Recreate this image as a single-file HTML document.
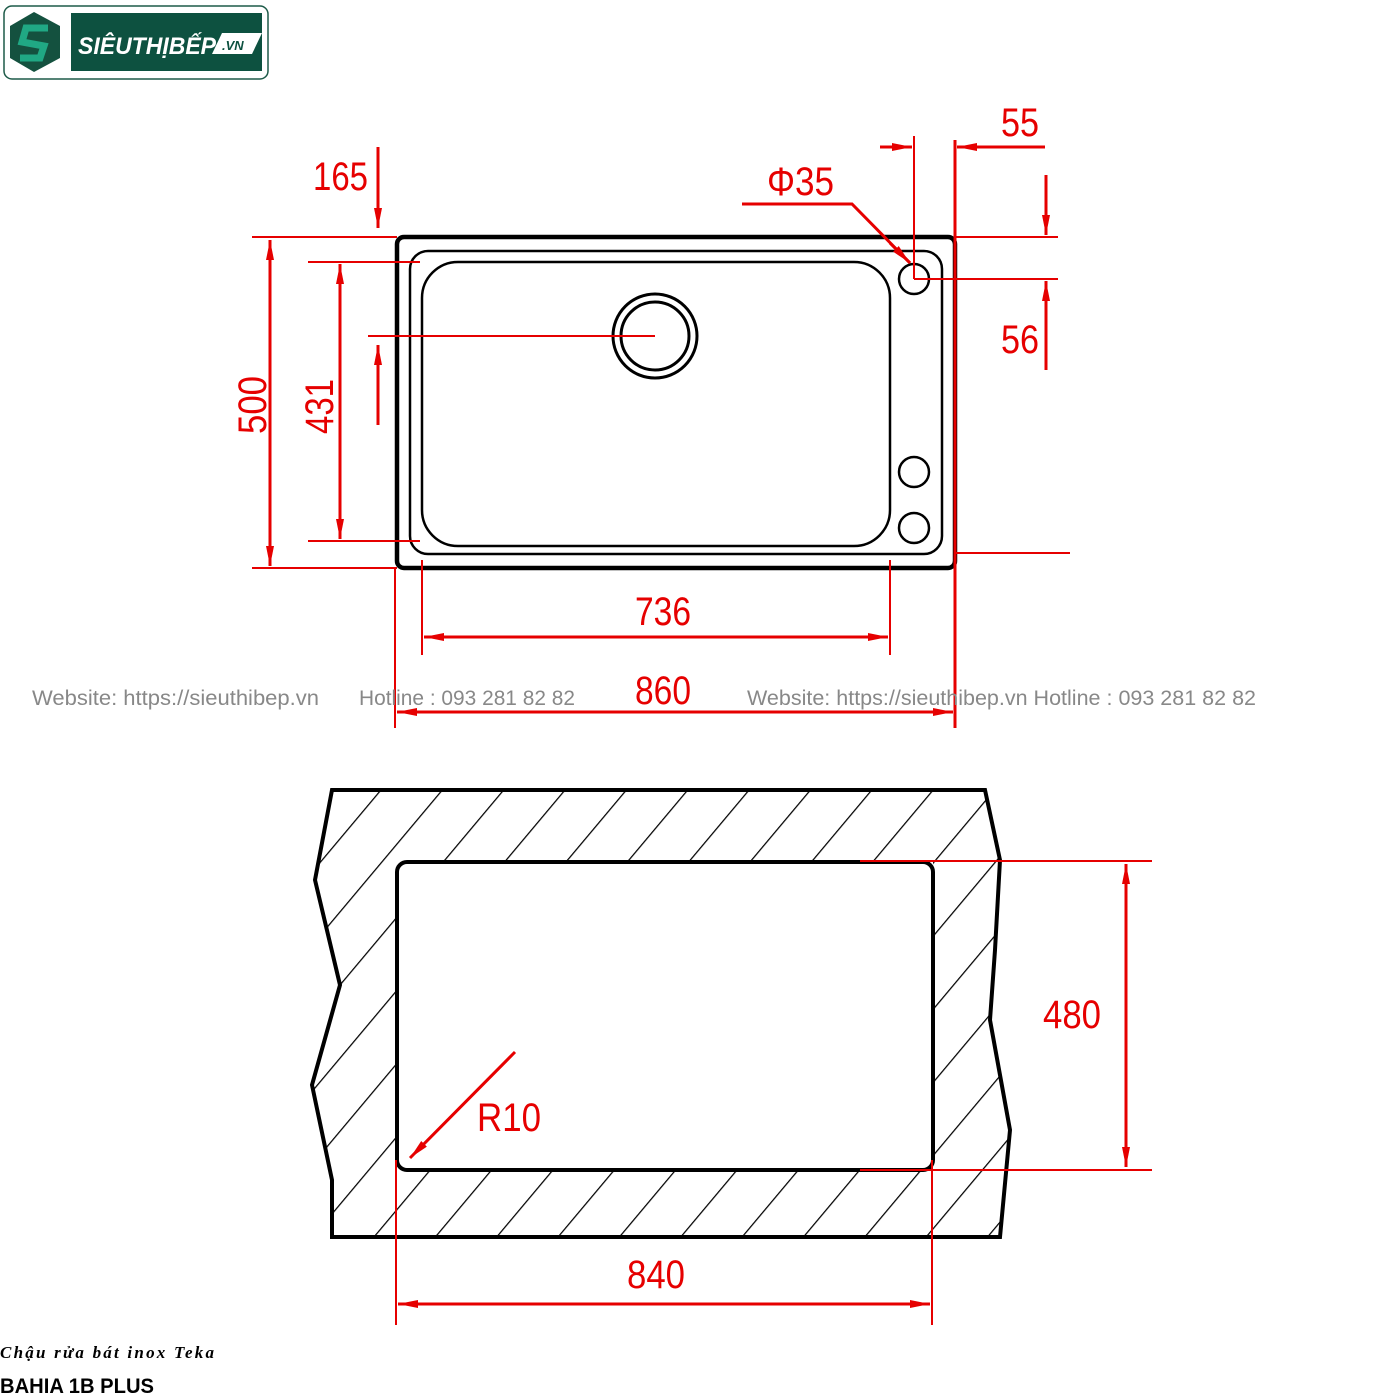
<!DOCTYPE html>
<html><head><meta charset="utf-8"><style>
html,body{margin:0;padding:0;background:#fff;}
svg{display:block}
.d{font-family:"Liberation Sans",sans-serif;fill:#e60000;font-size:40px}
</style></head><body>
<svg width="1400" height="1400" viewBox="0 0 1400 1400" xmlns="http://www.w3.org/2000/svg">
<defs>
<pattern id="h" patternUnits="userSpaceOnUse" width="47" height="47" patternTransform="rotate(40)">
<line x1="0" y1="0" x2="0" y2="47" stroke="#000" stroke-width="2.5"/>
</pattern>
<marker id="a" viewBox="0 0 20 10" refX="20" refY="5" markerWidth="20" markerHeight="10" markerUnits="userSpaceOnUse" orient="auto-start-reverse"><path d="M0,1 L20,5 L0,9z" fill="#e60000"/></marker>
</defs>
<!-- logo -->
<rect x="4" y="6" width="264" height="73" rx="8" fill="#fff" stroke="#1d5a48" stroke-width="1.5"/>
<polygon points="34,12 60,26 60,58 34,72 10,58 10,26" fill="#14513f"/>
<path d="M48,28 L26,28 L22,42 L44,46 L40,58 L20,58" stroke="#20a884" stroke-width="7" fill="none"/>
<rect x="71" y="13" width="191" height="58" fill="#0d5140"/>
<text x="78" y="54" font-family="Liberation Sans" font-style="italic" font-weight="bold" font-size="24" fill="#fff" textLength="138" lengthAdjust="spacingAndGlyphs">SIÊUTHỊBẾP</text>
<polygon points="222,33 262,33 252,54 212,54" fill="#fff"/>
<text x="222" y="50" font-family="Liberation Sans" font-style="italic" font-weight="bold" font-size="13" fill="#0d5140">.VN</text>

<!-- top sink -->
<g fill="none" stroke="#000">
<rect x="397" y="237" width="558" height="331" rx="7" stroke-width="4.5"/>
<rect x="410" y="251" width="532" height="303" rx="18" stroke-width="2.5"/>
<rect x="422" y="262" width="468" height="284" rx="36" stroke-width="2.5"/>
<circle cx="655" cy="336" r="42" stroke-width="3"/>
<circle cx="655" cy="336" r="34" stroke-width="3"/>
<circle cx="914" cy="279" r="15" stroke-width="2.5"/>
<circle cx="914" cy="472" r="15" stroke-width="2.5"/>
<circle cx="914" cy="528" r="15" stroke-width="2.5"/>
</g>
<g stroke="#e60000" stroke-width="2" fill="none">
<line x1="252" y1="237" x2="397" y2="237"/>
<line x1="252" y1="568" x2="397" y2="568"/>
<line x1="308" y1="262" x2="420" y2="262"/>
<line x1="308" y1="541" x2="420" y2="541"/>
<line x1="270" y1="240" x2="270" y2="566" stroke-width="3" marker-start="url(#a)" marker-end="url(#a)"/>
<line x1="340" y1="264" x2="340" y2="539" stroke-width="3" marker-start="url(#a)" marker-end="url(#a)"/>
<line x1="378" y1="147" x2="378" y2="228" stroke-width="3" marker-end="url(#a)"/>
<line x1="378" y1="425" x2="378" y2="345" stroke-width="3" marker-end="url(#a)"/>
<line x1="368" y1="336" x2="655" y2="336"/>
<line x1="395" y1="568" x2="395" y2="728"/>
<line x1="955" y1="140" x2="955" y2="728" stroke-width="3"/>
<line x1="422" y1="560" x2="422" y2="655"/>
<line x1="890" y1="560" x2="890" y2="655"/>
<line x1="424" y1="637" x2="888" y2="637" stroke-width="3" marker-start="url(#a)" marker-end="url(#a)"/>
<line x1="397" y1="712" x2="953" y2="712" stroke-width="3" marker-start="url(#a)" marker-end="url(#a)"/>
<line x1="914" y1="136" x2="914" y2="279"/>
<line x1="914" y1="279" x2="1058" y2="279"/>
<line x1="955" y1="237" x2="1058" y2="237"/>
<line x1="955" y1="553" x2="1070" y2="553"/>
<line x1="880" y1="147" x2="912" y2="147" stroke-width="3" marker-end="url(#a)"/>
<line x1="1045" y1="147" x2="957" y2="147" stroke-width="3" marker-end="url(#a)"/>
<line x1="1046" y1="175" x2="1046" y2="235" stroke-width="3" marker-end="url(#a)"/>
<line x1="1046" y1="370" x2="1046" y2="281" stroke-width="3" marker-end="url(#a)"/>
<polyline points="742,204 852,204 910,263" stroke-width="3"/>
<line x1="890" y1="243" x2="910" y2="263" stroke-width="3" marker-end="url(#a)"/>
</g>
<text class="d" x="313" y="190" textLength="55" lengthAdjust="spacingAndGlyphs">165</text>
<text class="d" x="767" y="195" textLength="67" lengthAdjust="spacingAndGlyphs">Φ35</text>
<text class="d" x="1001" y="136" textLength="38" lengthAdjust="spacingAndGlyphs">55</text>
<text class="d" x="1001" y="353" textLength="38" lengthAdjust="spacingAndGlyphs">56</text>
<text class="d" x="635" y="625" textLength="56" lengthAdjust="spacingAndGlyphs">736</text>
<text class="d" x="635" y="704" textLength="56" lengthAdjust="spacingAndGlyphs">860</text>
<text class="d" transform="translate(266,434) rotate(-90)" textLength="58" lengthAdjust="spacingAndGlyphs">500</text>
<text class="d" transform="translate(333,434) rotate(-90)" textLength="55" lengthAdjust="spacingAndGlyphs">431</text>
<g font-family="Liberation Sans" font-size="21" fill="#888">
<text x="32" y="705" textLength="287" lengthAdjust="spacingAndGlyphs">Website: https://sieuthibep.vn</text>
<text x="359" y="705" textLength="216" lengthAdjust="spacingAndGlyphs">Hotline : 093 281 82 82</text>
<text x="747" y="705" textLength="509" lengthAdjust="spacingAndGlyphs">Website: https://sieuthibep.vn Hotline : 093 281 82 82</text>
</g>

<!-- bottom cutout -->
<path fill="url(#h)" fill-rule="evenodd" d="M332,790 L985,790 L1000,860 L995,950 L990,1020 L1010,1130 L1000,1237 L332,1237 L332,1180 L312,1085 L340,985 L315,880 Z M397,862 L933,862 L933,1170 L397,1170 Z"/>
<path fill="none" stroke="#000" stroke-width="4" d="M332,790 L985,790 L1000,860 L995,950 L990,1020 L1010,1130 L1000,1237 L332,1237 L332,1180 L312,1085 L340,985 L315,880 Z"/>
<rect x="397" y="862" width="536" height="308" rx="10" fill="#fff" stroke="#000" stroke-width="4"/>
<g stroke="#e60000" stroke-width="2" fill="none">
<line x1="860" y1="861" x2="1152" y2="861"/>
<line x1="860" y1="1170" x2="1152" y2="1170"/>
<line x1="1126" y1="864" x2="1126" y2="1167" stroke-width="3" marker-start="url(#a)" marker-end="url(#a)"/>
<line x1="396" y1="1160" x2="396" y2="1325"/>
<line x1="932" y1="1160" x2="932" y2="1325"/>
<line x1="398" y1="1304" x2="930" y2="1304" stroke-width="3" marker-start="url(#a)" marker-end="url(#a)"/>
<line x1="515" y1="1052" x2="410" y2="1158" stroke-width="3" marker-end="url(#a)"/>
</g>
<text class="d" x="1043" y="1028" textLength="58" lengthAdjust="spacingAndGlyphs">480</text>
<text class="d" x="627" y="1288" textLength="58" lengthAdjust="spacingAndGlyphs">840</text>
<text class="d" x="477" y="1131" textLength="64" lengthAdjust="spacingAndGlyphs">R10</text>

<text x="0" y="1358" font-family="Liberation Serif" font-style="italic" font-weight="bold" font-size="17" letter-spacing="2" fill="#000" textLength="216">Chậu rửa bát inox Teka</text>
<text x="0" y="1393" font-family="Liberation Sans" font-weight="bold" font-size="21" fill="#000" textLength="154" lengthAdjust="spacingAndGlyphs">BAHIA 1B PLUS</text>
</svg>
</body></html>
